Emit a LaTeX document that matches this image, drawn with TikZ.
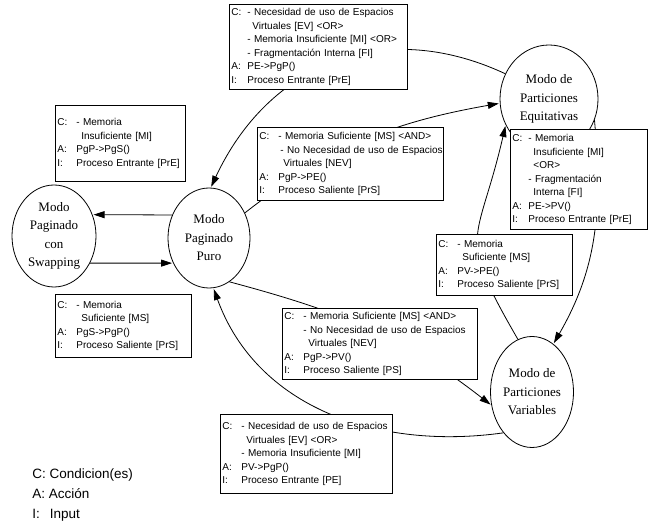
\documentclass[tikz,border=0pt]{standalone}
\usepackage{fontspec}
\setmainfont{Liberation Serif}
\setsansfont{Liberation Sans}
\usetikzlibrary{arrows.meta,shapes.geometric}

\newcommand{\cajafont}{\sffamily\fontsize{10}{13.5}\selectfont}

\begin{document}
\begin{tikzpicture}[x=1pt,y=1pt,->,>={Triangle[length=11pt,width=7pt]},shorten >=1pt,line width=0.8pt,
  modo/.style={ellipse,draw,inner sep=0pt,align=center,font=\rmfamily\fontsize{13}{18.5}\selectfont},
  caja/.style={rectangle,draw,fill=white,anchor=north west,inner sep=2pt,align=left,font=\cajafont}]

\useasboundingbox (0,0) rectangle (652,524);

% modos
\node[modo, minimum width=84pt, minimum height=102pt] (PgS) at (54,288) {Modo\\Paginado\\con\\Swapping};
\node[modo, minimum width=82pt, minimum height=100pt] (PgP) at (209,286) {Modo\\Paginado\\Puro};
\node[modo, minimum width=98pt, minimum height=108pt] (PE)  at (549,425) {Modo de\\Particiones\\Equitativas};
\node[modo, minimum width=83pt, minimum height=111pt] (PV)  at (532,132) {Modo de\\Particiones\\Variables};

% transiciones
\path
	(PgP.148) edge (PgS.29)
	(PgS.323) edge (PgP.215);

\path
	(PE.150)  edge[out=155,in=65,looseness=1.1] (PgP.88)
	(PgP.35)  edge[out=38,in=190] (PE.185);

\path
	(PE.335)  edge[out=275,in=60] (PV.66)
	(PV.105)  edge[out=120,in=257,looseness=1.5] (PE.211);

\path
	(PgP.295) edge[out=345,in=142] (PV.198)
	(PV.235)  edge[out=188,in=290] (PgP.275);

% condiciones
\node[caja, text width=174pt, minimum height=85pt] (c1) at (229,520) {\begin{tabular}{@{}l@{\hspace{6pt}}l@{}}
C: & - Necesidad de uso de Espacios\\
   & \hspace{5pt}Virtuales [EV] <OR>\\
   & - Memoria Insuficiente [MI] <OR>\\
   & - Fragmentación Interna [FI]\\
A: & PE->PgP()\\
I: & Proceso Entrante [PrE]
\end{tabular}};

\node[caja, text width=126pt, minimum height=76pt] (c2) at (55,419) {\begin{tabular}{@{}l@{\hspace{9pt}}l@{}}
C: & - Memoria\\
   & \hspace{5pt}Insuficiente [MI]\\
A: & PgP->PgS()\\
I: & Proceso Entrante [PrE]
\end{tabular}};

\node[caja, text width=182pt, minimum height=73pt] (c3) at (257,397) {\begin{tabular}{@{}l@{\hspace{9pt}}l@{}}
C: & - Memoria Suficiente [MS] <AND>\\
   & \hspace{2pt}- No Necesidad de uso de Espacios\\
   & \hspace{5pt}Virtuales [NEV]\\
A: & PgP->PE()\\
I: & Proceso Saliente [PrS]
\end{tabular}};

\node[caja, text width=133pt, minimum height=100pt] (c4) at (510,395) {\begin{tabular}{@{}l@{\hspace{6pt}}l@{}}
C: & - Memoria\\
   & \hspace{5pt}Insuficiente [MI]\\
   & \hspace{5pt}<OR>\\
   & - Fragmentación\\
   & \hspace{5pt}Interna [FI]\\
A: & PE->PV()\\
I: & Proceso Entrante [PrE]
\end{tabular}};

\node[caja, text width=132pt, minimum height=61pt] (c5) at (436,290) {\begin{tabular}{@{}l@{\hspace{9pt}}l@{}}
C: & - Memoria\\
   & \hspace{5pt}Suficiente [MS]\\
A: & PV->PE()\\
I: & Proceso Saliente [PrS]
\end{tabular}};

\node[caja, text width=191pt, minimum height=69pt] (c6) at (282,216) {\begin{tabular}{@{}l@{\hspace{9pt}}l@{}}
C: & - Memoria Suficiente [MS] <AND>\\
   & - No Necesidad de uso de Espacios\\
   & \hspace{5pt}Virtuales [NEV]\\
A: & PgP->PV()\\
I: & Proceso Saliente [PS]
\end{tabular}};

\node[caja, text width=168pt, minimum height=79pt] (c7) at (220,110) {\begin{tabular}{@{}l@{\hspace{9pt}}l@{}}
C: & - Necesidad de uso de Espacios\\
   & \hspace{5pt}Virtuales [EV] <OR>\\
   & - Memoria Insuficiente [MI]\\
A: & PV->PgP()\\
I: & Proceso Entrante [PE]
\end{tabular}};

\node[caja, text width=132pt, minimum height=63pt] (c8) at (55,230) {\begin{tabular}{@{}l@{\hspace{9pt}}l@{}}
C: & - Memoria\\
   & \hspace{5pt}Suficiente [MS]\\
A: & PgS->PgP()\\
I: & Proceso Saliente [PrS]
\end{tabular}};

% leyenda
\node[anchor=north west, align=left, inner sep=0pt, font=\sffamily\fontsize{13.5}{20}\selectfont] (leyenda) at (32,56)
	{C: Condicion(es)\\A: Acción\\I:\hspace{10pt}Input};

\end{tikzpicture}
\end{document}
